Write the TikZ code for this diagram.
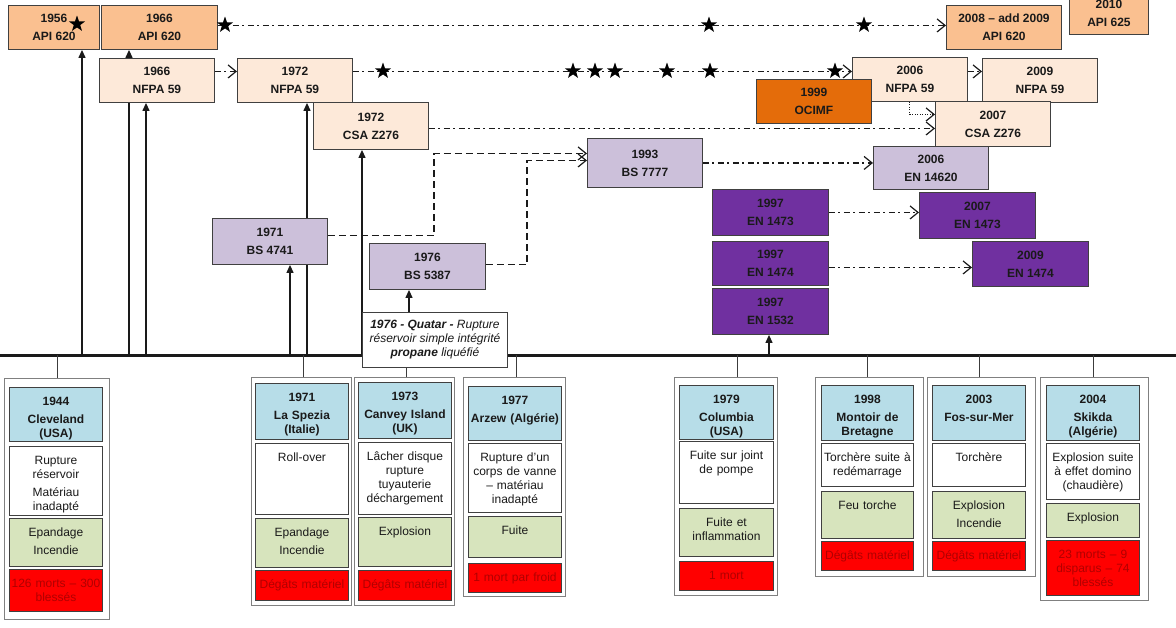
\documentclass[tikz,border=0pt]{standalone}
\usepackage{fontspec}
\setmainfont{Liberation Sans}
\usetikzlibrary{arrows.meta,shapes.geometric}
\definecolor{apiorange}{HTML}{FAC090}
\definecolor{peach}{HTML}{FDE9D9}
\definecolor{lavender}{HTML}{CCC0DA}
\definecolor{enpurple}{HTML}{7030A0}
\definecolor{ocimforange}{HTML}{E46C0A}
\definecolor{hblue}{HTML}{B7DDE8}
\definecolor{cgreen}{HTML}{D7E4BD}
\definecolor{cred}{HTML}{FF0000}
\definecolor{redtext}{HTML}{B00000}
\definecolor{boxline}{HTML}{404040}
\definecolor{outerline}{HTML}{808080}
\definecolor{ink}{HTML}{1A1A1A}
\pgfdeclarelayer{background}
\pgfsetlayers{background,main}
\tikzset{
  stdbox/.style={draw=boxline, line width=0.9pt, inner sep=0pt, anchor=north west, align=center,
    font=\fontsize{12}{18}\selectfont\bfseries, text=ink},
  sz/.style 2 args={minimum width=#1pt, minimum height=#2pt},
  apibox/.style={stdbox, fill=apiorange},
  nfbox/.style={stdbox, fill=peach},
  bsbox/.style={stdbox, fill=lavender},
  enbox/.style={stdbox, fill=enpurple},
  ocbox/.style={stdbox, fill=ocimforange},
  cell/.style 2 args={draw=boxline, line width=0.9pt, anchor=north west, inner sep=0pt,
    text width=#1pt, minimum width=#1pt, align=center, text height=18pt, text depth=#2pt,
    font=\fontsize{12}{14}\selectfont, text=ink},
  hcell/.style 2 args={cell={#1}{#2}, fill=hblue, font=\fontsize{12}{14}\selectfont\bfseries},
  wcell/.style 2 args={cell={#1}{#2}, fill=white},
  gcell/.style 2 args={cell={#1}{#2}, fill=cgreen},
  rcell/.style 2 args={cell={#1}{#2}, fill=cred, text=redtext},
  outerbox/.style 2 args={draw=outerline, line width=0.9pt, fill=white, anchor=north west,
    inner sep=0pt, minimum width=#1pt, minimum height=#2pt},
  qbox/.style={draw=boxline, line width=0.9pt, fill=white, inner sep=0pt, anchor=north west,
    minimum width=145pt, minimum height=55pt, align=center,
    font=\fontsize{12}{14}\selectfont\itshape, text=ink},
  dd/.style={draw=ink, line width=1.1pt, dash pattern=on 6pt off 3.5pt on 2pt off 3.5pt},
  dsh/.style={draw=ink, line width=1.2pt, dash pattern=on 7pt off 4pt},
  dots/.style={draw=ink, line width=1pt, dash pattern=on 1pt off 1.5pt},
  barb/.style={-{Straight Barb[length=8pt,width=13pt,line width=1.2pt]}},
  uparr/.style={draw=ink, line width=1.2pt, -{Triangle[length=8pt,width=7pt]}},
  plainline/.style={draw=ink, line width=1.2pt},
  tick/.style={draw=ink!85, line width=0.9pt},
  timeline/.style={draw=ink, line width=3pt},
  starmark/.style={star, star points=5, star point ratio=2.5, fill=black, draw=none,
    inner sep=0pt, minimum size=17pt}
}
\begin{document}
\begin{tikzpicture}[x=1pt,y=-1pt]
\useasboundingbox (0,0) rectangle (1176,627);
% ---------- timeline coordinates ----------
\coordinate (tl0) at (0,355);
\coordinate (tl1) at (1176,355);
\coordinate (t82) at (82,355);
\coordinate (t129) at (129,355);
\coordinate (t146) at (146,355);
\coordinate (t290) at (290,355);
\coordinate (t307) at (307,355);
\coordinate (t362) at (362,355);
\coordinate (t769) at (769,355);
\coordinate (c1) at (57,355);
\coordinate (c2) at (303,355);
\coordinate (c3) at (406,355);
\coordinate (c4) at (516,355);
\coordinate (c5) at (737,355);
\coordinate (c6) at (867,355);
\coordinate (c7) at (979,355);
\coordinate (c8) at (1093,355);
\coordinate (k434) at (434,0);
\coordinate (k527) at (527,0);
\coordinate (qa) at (409,312);

% ---------- standard boxes ----------
\node[apibox, sz={91}{44}] (api56) at (8,5) {1956\\API 620};
\node[apibox, sz={116}{44}] (api66) at (101,5) {1966\\API 620};
\node[apibox, sz={115}{44}] (api08) at (946,5) {2008 – add 2009\\API 620};
\node[apibox, sz={79}{42}] (api10) at (1069,-8) {2010\\API 625};
\node[nfbox, sz={115}{44}] (nf66) at (99,58) {1966\\NFPA 59};
\node[nfbox, sz={115}{44}] (nf72) at (237,58) {1972\\NFPA 59};
\node[nfbox, sz={115}{44}] (nf06) at (852,57) {2006\\NFPA 59};
\node[nfbox, sz={115}{44}] (nf09) at (982,58) {2009\\NFPA 59};
\node[ocbox, sz={115}{44}] (ocimf) at (756,79) {1999\\OCIMF};
\node[nfbox, sz={115}{47}] (csa72) at (313,102) {1972\\CSA Z276};
\node[nfbox, sz={115}{45}] (csa07) at (935,101) {2007\\CSA Z276};
\node[bsbox, sz={115}{49}] (bs7777) at (587,138) {1993\\BS 7777};
\node[bsbox, sz={115}{43}] (en14620) at (873,146) {2006\\EN 14620};
\node[bsbox, sz={115}{46}] (bs4741) at (212,218) {1971\\BS 4741};
\node[bsbox, sz={116}{46}] (bs5387) at (369,243) {1976\\BS 5387};
\node[enbox, sz={116}{46}] (en73) at (712,189) {1997\\EN 1473};
\node[enbox, sz={116}{46}] (en73b) at (919,192) {2007\\EN 1473};
\node[enbox, sz={116}{44}] (en74) at (712,241) {1997\\EN 1474};
\node[enbox, sz={116}{45}] (en74b) at (972,241) {2009\\EN 1474};
\node[enbox, sz={116}{46}] (en32) at (712,288) {1997\\EN 1532};
\node[qbox] (qatar) at (362,312) {\textbf{1976 - Quatar -} Rupture\\réservoir simple intégrité\\\textbf{propane} liquéfié};

% ---------- incident groups ----------
\node[outerbox={105}{241}] (g1) at (4,378) {};
\node[hcell={93}{36}] (g1h) at (9,387) {1944\\[4pt]Cleveland\\(USA)};
\node[wcell={93}{51}] (g1w) at (9,446) {Rupture\\réservoir\\[4pt]Matériau\\inadapté};
\node[gcell={93}{30}] (g1g) at (9,518) {Epandage\\[4pt]Incendie};
\node[rcell={93}{24}] (g1r) at (9,569) {126 morts – 300\\blessés};

\node[outerbox={100}{228}] (g2) at (251,377) {};
\node[hcell={93}{38}] (g2h) at (255,383) {1971\\[4pt]La Spezia\\(Italie)};
\node[wcell={93}{53}] (g2w) at (255,443) {Roll-over};
\node[gcell={93}{31}] (g2g) at (255,518) {Epandage\\[4pt]Incendie};
\node[rcell={93}{12}] (g2r) at (255,570) {Dégâts matériel};

\node[outerbox={100}{228}] (g3) at (354,377) {};
\node[hcell={93}{38}] (g3h) at (358,382) {1973\\[4pt]Canvey Island\\(UK)};
\node[wcell={93}{54}] (g3w) at (358,442) {Lâcher disque\\rupture\\tuyauterie\\déchargement};
\node[gcell={93}{31}] (g3g) at (358,517) {Explosion};
\node[rcell={93}{12}] (g3r) at (358,570) {Dégâts matériel};

\node[outerbox={102}{219}] (g4) at (463,377) {};
\node[hcell={93}{36}] (g4h) at (468,386) {1977\\[4pt]Arzew (Algérie)};
\node[wcell={93}{51}] (g4w) at (468,443) {Rupture d’un\\corps de vanne\\– matériau\\inadapté};
\node[gcell={93}{23}] (g4g) at (468,516) {Fuite};
\node[rcell={93}{11}] (g4r) at (468,563) {1 mort par froid};

\node[outerbox={103}{218}] (g5) at (674,377) {};
\node[hcell={94}{36}] (g5h) at (679,385) {1979\\[4pt]Columbia\\(USA)};
\node[wcell={94}{44}] (g5w) at (679,441) {Fuite sur joint\\de pompe};
\node[gcell={94}{30}] (g5g) at (679,508) {Fuite et\\inflammation};
\node[rcell={94}{11}] (g5r) at (679,561) {1 mort};

\node[outerbox={108}{199}] (g6) at (815,377) {};
\node[hcell={92}{37}] (g6h) at (821,385) {1998\\[4pt]Montoir de\\Bretagne};
\node[wcell={92}{25}] (g6w) at (821,443) {Torchère suite à\\redémarrage};
\node[gcell={92}{29}] (g6g) at (821,491) {Feu torche};
\node[rcell={92}{11}] (g6r) at (821,541) {Dégâts matériel};

\node[outerbox={108}{199}] (g7) at (927,377) {};
\node[hcell={93}{37}] (g7h) at (932,385) {2003\\[4pt]Fos-sur-Mer};
\node[wcell={93}{25}] (g7w) at (932,443) {Torchère};
\node[gcell={93}{29}] (g7g) at (932,491) {Explosion\\[4pt]Incendie};
\node[rcell={93}{11}] (g7r) at (932,541) {Dégâts matériel};

\node[outerbox={108}{223}] (g8) at (1040,377) {};
\node[hcell={93}{37}] (g8h) at (1046,385) {2004\\[4pt]Skikda\\(Algérie)};
\node[wcell={93}{38}] (g8w) at (1046,443) {Explosion suite\\à effet domino\\(chaudière)};
\node[gcell={93}{16}] (g8g) at (1046,503) {Explosion};
\node[rcell={93}{37}] (g8r) at (1046,540) {23 morts – 9\\disparus – 74\\blessés};

% ---------- stars ----------
\node[starmark] (s0) at (77,24) {};
\node[starmark] (s1) at (225,25) {};
\node[starmark] (s2) at (709,25) {};
\node[starmark] (s3) at (864,25) {};
\node[starmark] (s4) at (383,71) {};
\node[starmark] (s5) at (573,71) {};
\node[starmark] (s6) at (595,71) {};
\node[starmark] (s7) at (615,71) {};
\node[starmark] (s8) at (667,71) {};
\node[starmark] (s9) at (710,71) {};
\node[starmark] (s10) at (835,71) {};

% ---------- connectors (behind boxes) ----------
\begin{pgfonlayer}{background}
\draw[timeline] (tl0) -- (tl1);
% vertical arrows from the timeline
\draw[uparr] (t82) -- (t82 |- api56.south);
\draw[plainline] (t129) -- (t129 |- nf66.south);
\draw[uparr] (t129 |- nf66.north) -- (t129 |- api66.south);
\draw[uparr] (t146) -- (t146 |- nf66.south);
\draw[uparr] (t290) -- (t290 |- bs4741.south);
\draw[uparr] (t307) -- (t307 |- nf72.south);
\draw[uparr] (t362) -- (t362 |- csa72.south);
\draw[uparr] (qa) -- (qa |- bs5387.south);
\draw[uparr] (t769) -- (t769 |- en32.south);
% incident ticks
\draw[tick] (c1) -- (c1 |- g1.north);
\draw[tick] (c2) -- (c2 |- g2.north);
\draw[tick] (c3 |- qatar.south) -- (c3 |- g3.north);
\draw[tick] (c4) -- (c4 |- g4.north);
\draw[tick] (c5) -- (c5 |- g5.north);
\draw[tick] (c6) -- (c6 |- g6.north);
\draw[tick] (c7) -- (c7 |- g7.north);
\draw[tick] (c8) -- (c8 |- g8.north);
% revisions
\draw[dd, barb] ([yshift=2pt]api66.east) -- ([yshift=2pt]api08.west);
\draw[dd, barb] ([yshift=9pt]nf66.east) -- ([yshift=9pt]nf72.west);
\draw[dd, barb] ([yshift=9pt]nf72.east) -- ([yshift=8pt]nf06.west);
\draw[dd, barb] ([yshift=8pt]nf06.east) -- ([yshift=9pt]nf09.west);
\draw[dots, barb] (nf06.south) |- ([yshift=9.5pt]csa07.west);
\draw[dd, barb] ([yshift=-2.5pt]csa72.east) -- ([yshift=-4.5pt]csa07.west);
\draw[dd, barb] (bs7777.east) -- ([yshift=5pt]en14620.west);
\draw[dd, barb] (en73.east) -- ([yshift=3pt]en73b.west);
\draw[dd, barb] ([yshift=-4pt]en74.east) -- ([yshift=-3.5pt]en74b.west);
\coordinate (b41o) at ([yshift=6pt]bs4741.east);
\coordinate (b53o) at ([yshift=2pt]bs5387.east);
\draw[dsh, barb] (b41o) -- (b41o -| k434) |- ([yshift=9.5pt]bs7777.west);
\draw[dsh, barb] (b53o) -- (b53o -| k527) |- ([yshift=2.5pt]bs7777.west);
\end{pgfonlayer}
\end{tikzpicture}
\end{document}
